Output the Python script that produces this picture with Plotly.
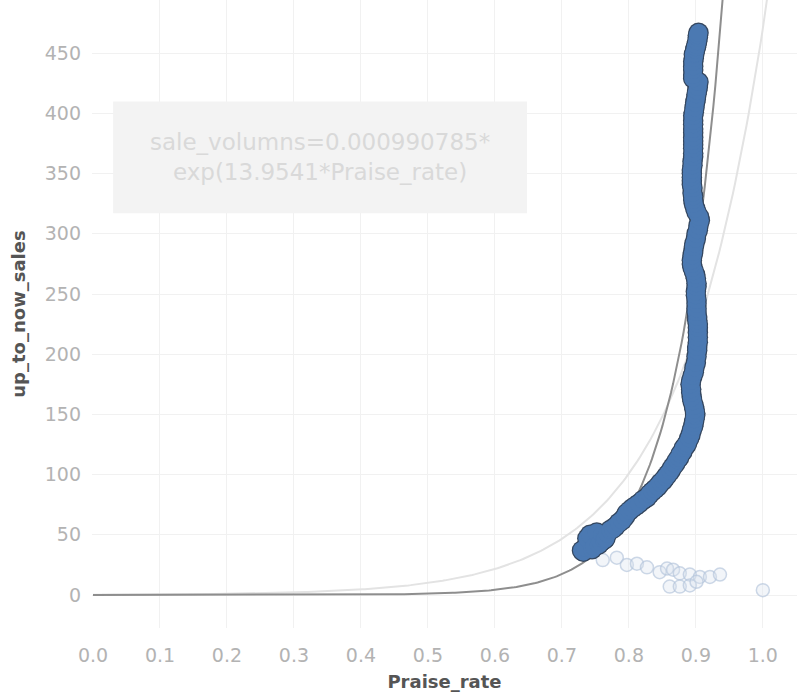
import numpy as np
import plotly.graph_objects as go

# Store observations: praise rate vs. cumulative sales
praise_rate = [
    0.730, 0.732, 0.735, 0.738, 0.742, 0.745, 0.748, 0.752, 0.755, 0.758,
    0.760, 0.763, 0.765, 0.768, 0.772, 0.776, 0.780, 0.785, 0.790, 0.794,
    0.797, 0.801, 0.805, 0.810, 0.815, 0.821, 0.827, 0.831, 0.835, 0.839,
    0.843, 0.847, 0.851, 0.855, 0.858, 0.862, 0.865, 0.869, 0.872, 0.875,
    0.877, 0.880, 0.882, 0.885, 0.887, 0.890, 0.892, 0.894, 0.896, 0.897,
    0.898, 0.899, 0.899, 0.898, 0.897, 0.895, 0.894, 0.893, 0.893, 0.892,
    0.893, 0.895, 0.897, 0.898, 0.900, 0.901, 0.902, 0.902, 0.903, 0.903,
    0.903, 0.903, 0.903, 0.902, 0.902, 0.901, 0.901, 0.901, 0.901, 0.900,
    0.900, 0.901, 0.901, 0.900, 0.899, 0.897, 0.895, 0.894, 0.894, 0.895,
    0.896, 0.897, 0.898, 0.900, 0.901, 0.903, 0.904, 0.906, 0.905, 0.901,
    0.899, 0.897, 0.896, 0.896, 0.895, 0.895, 0.894, 0.894, 0.894, 0.894,
    0.894, 0.895, 0.895, 0.896, 0.896, 0.896, 0.896, 0.896, 0.896, 0.896,
    0.896, 0.896, 0.896, 0.896, 0.897, 0.898, 0.899, 0.900, 0.901, 0.902,
    0.903, 0.904,
]
up_to_now_sales = [
    37, 36, 39, 47, 50, 38, 40, 52, 42, 44,
    50, 46, 47, 51, 54, 55, 57, 60, 62, 65,
    68, 70, 72, 74, 76, 79, 81, 84, 86, 88,
    90, 93, 95, 98, 100, 103, 106, 109, 112, 114,
    117, 119, 122, 124, 126, 130, 133, 137, 140, 143,
    146, 149, 151, 154, 157, 161, 164, 168, 171, 175,
    178, 182, 185, 189, 193, 198, 203, 206, 210, 214,
    218, 222, 225, 228, 231, 235, 238, 242, 245, 249,
    252, 256, 259, 263, 266, 269, 272, 275, 278, 282,
    285, 289, 292, 296, 300, 303, 307, 311, 314, 318,
    321, 325, 328, 331, 334, 338, 341, 344, 347, 350,
    353, 357, 360, 364, 367, 371, 374, 377, 380, 384,
    387, 391, 394, 398, 401, 405, 409, 412, 416, 419,
    422, 426,
]
# upper stretch of the same series
praise_rate += [0.896, 0.896, 0.896, 0.896, 0.896, 0.897, 0.897, 0.898, 0.899, 0.900,
                0.901, 0.902, 0.903, 0.903, 0.904]
up_to_now_sales += [429, 432, 436, 439, 443, 446, 449, 450, 453, 455,
                    457, 460, 463, 465, 467]

# Excluded (outlier) observations
outlier_rate = [0.761, 0.782, 0.797, 0.812, 0.827, 0.846, 0.857, 0.866, 0.876,
                0.891, 0.906, 0.921, 0.936, 0.861, 0.876, 0.891, 0.901, 1.0]
outlier_sales = [29, 31, 25, 26, 23, 19, 22, 21, 18,
                 17, 15, 15, 17, 7, 7, 8, 11, 4]

# Exponential trend model: sale_volumns = a * exp(b * Praise_rate)
fit_a, fit_b = 0.000990785, 13.9541
# Trend fitted including the excluded points
alt_a, alt_b = 0.213, 7.7

x_ticks = [0.0, 0.1, 0.2, 0.3, 0.4, 0.5, 0.6, 0.7, 0.8, 0.9, 1.0]
y_ticks = [0, 50, 100, 150, 200, 250, 300, 350, 400, 450]

xs_fit = np.linspace(0, 0.945, 300)
xs_alt = np.linspace(0, 1.02, 300)

fig = go.Figure()

fig.add_trace(go.Scatter(
    x=xs_alt, y=alt_a * np.exp(alt_b * xs_alt), mode="lines",
    line=dict(color="#e3e3e3", width=2), hoverinfo="skip", showlegend=False))
fig.add_trace(go.Scatter(
    x=xs_fit, y=fit_a * np.exp(fit_b * xs_fit), mode="lines",
    line=dict(color="#8e8e8e", width=2), hoverinfo="skip", showlegend=False))

fig.add_trace(go.Scatter(
    x=outlier_rate, y=outlier_sales, mode="markers",
    marker=dict(size=13, color="rgba(218,227,239,0.35)",
                line=dict(color="rgba(178,195,218,0.65)", width=1.5)),
    showlegend=False))

# Marker outlines as an underlay so overlapping points read as one band
fig.add_trace(go.Scatter(
    x=praise_rate, y=up_to_now_sales, mode="markers",
    marker=dict(size=20.5, color="#34465e", line=dict(width=0)),
    hoverinfo="skip", showlegend=False))
fig.add_trace(go.Scatter(
    x=praise_rate, y=up_to_now_sales, mode="markers",
    marker=dict(size=18, color="#4b79b2", line=dict(width=0)),
    showlegend=False))

# Equation box
fig.add_shape(type="rect", xref="x", yref="y", x0=0.03, x1=0.648, y0=317, y1=410,
              fillcolor="#f3f3f3", line=dict(width=0), layer="above")
fig.add_annotation(
    x=0.339, y=363.5, xref="x", yref="y", showarrow=False,
    text="sale_volumns=0.000990785*<br>exp(13.9541*Praise_rate)",
    font=dict(family="DejaVu Sans", size=23, color="#d9d9d9"), align="center")

fig.update_layout(
    width=797, height=697,
    margin=dict(l=92, r=0, t=0, b=69),
    paper_bgcolor="white", plot_bgcolor="white",
    font=dict(family="DejaVu Sans"),
)
fig.update_xaxes(
    range=[-0.0015, 1.051], tickvals=x_ticks, ticktext=[f"{v:.1f}" for v in x_ticks],
    showgrid=True, gridcolor="#f1f1f1", gridwidth=1, zeroline=False, showline=False,
    tickfont=dict(size=19, color="#b3b3b3"), ticklabelstandoff=14,
    title=dict(text="<b>Praise_rate</b>", font=dict(size=18, color="#555555"), standoff=10),
)
fig.update_yaxes(
    range=[-27.4, 494.2], tickvals=y_ticks,
    showgrid=True, gridcolor="#f1f1f1", gridwidth=1, zeroline=False, showline=False,
    tickfont=dict(size=19, color="#b3b3b3"), ticklabelstandoff=10,
    title=dict(text="<b>up_to_now_sales</b>", font=dict(size=18, color="#555555"), standoff=14),
)

fig.write_html("out.html")
